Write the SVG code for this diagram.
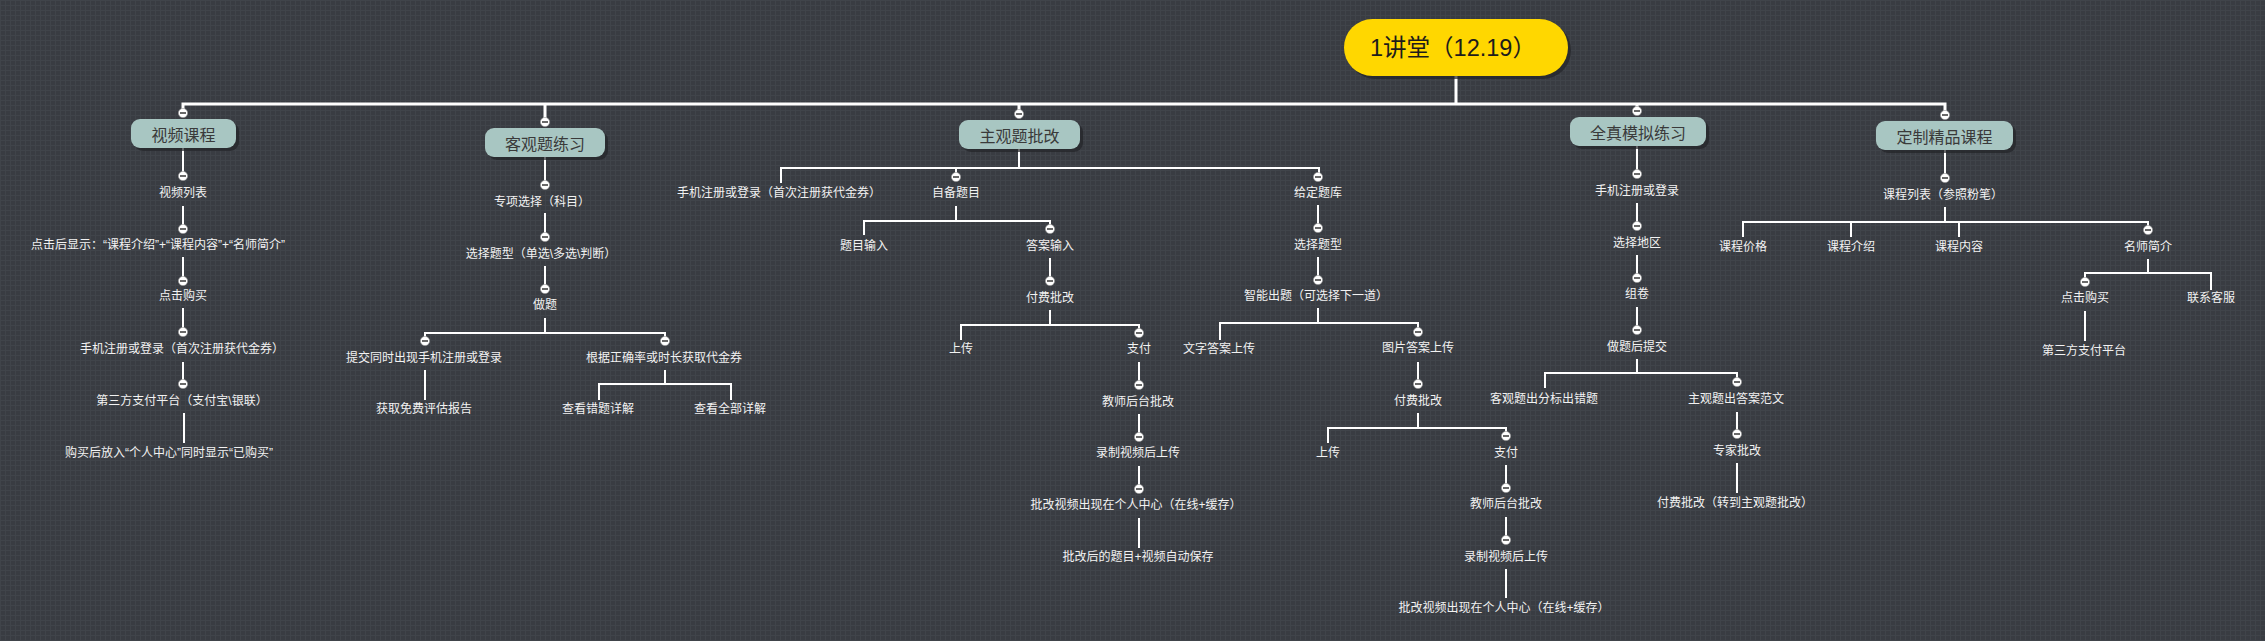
<svg xmlns="http://www.w3.org/2000/svg" xmlns:xlink="http://www.w3.org/1999/xlink" width="2265" height="641" viewBox="0 0 2265 641">
<style>
.t{font-family:"Liberation Sans","Noto Sans CJK SC",sans-serif;font-size:12px;fill:#f2f2f2;text-anchor:middle;dominant-baseline:central}
.b{font-family:"Noto Sans CJK SC","Noto Sans",sans-serif;font-size:16px;fill:#3a3a3a;text-anchor:middle;dominant-baseline:central}
.r{font-family:"Liberation Sans","Noto Sans CJK SC",sans-serif;font-size:23.5px;fill:#1c1c1c;text-anchor:middle;dominant-baseline:central}
.c{fill:none;stroke:#ffffff;stroke-width:2}
.m{fill:none;stroke:#ffffff;stroke-width:3}
.box{fill:#a8c6c2}
.sh{fill:#222428;opacity:0.7}
</style>
<defs>
<pattern id="grid" width="5" height="5" patternUnits="userSpaceOnUse">
<rect width="5" height="5" fill="#393c42"/>
<path d="M0 0.5H5M0.5 0V5" stroke="#40444a" stroke-width="1"/>
</pattern>
<g id="tog">
<circle r="4.6" fill="#ffffff" stroke="#9a9a9a" stroke-width="0.6"/>
<line x1="-3" y1="0" x2="3" y2="0" stroke="#444444" stroke-width="1.6"/>
</g>
</defs>
<rect width="2265" height="641" fill="url(#grid)"/>

<g id="connectors">
<path class="m" d="M1456 76V104M183 113V104H1945V115M545 104V122M1019 104V114M1637 104V111"/>
<path class="c" d="M183 148V176M183 206V229M183 257V281M183 308V332M183 362V384M184 413V443"/>
<path class="c" d="M545 157V185M545 213V237M545 266V289M545 318V333M425 341V333H665V341M425 370V400M665 370V384M599 400V384H731V400"/>
<path class="c" d="M1019 149V168M781 183V168H1319V177M956 168V177M956 206V221M864 235V221H1050V229M1050 258V281M1050 310V325M961 340V325H1139V333M1139 362V385M1139 414V437M1139 466V489M1139 518V548"/>
<path class="c" d="M1318 205V228M1318 257V280M1318 308V323M1220 340V323H1418V332M1418 362V384M1418 413V428M1328 443V428H1506V436M1506 465V488M1506 517V540M1506 569V598"/>
<path class="c" d="M1637 146V174M1637 203V226M1637 255V278M1637 307V330M1637 359V373M1545 388V373H1737V382M1737 412V434M1737 463V493"/>
<path class="c" d="M1945 150V178M1945 207V222M1743 237V222H2148V230M1851 222V237M1959 222V237M2148 259V273M2085 282V273H2211V290M2085 311V341"/>
</g>

<g id="root">
<rect class="sh" x="1347" y="22" width="224" height="57" rx="28.5"/>
<rect x="1344" y="19" width="224" height="57" rx="28.5" fill="#ffd700"/>
<text class="r" x="1453" y="47.5">1讲堂（12.19）</text>
</g>

<g id="b1">
<rect class="sh" x="134" y="122" width="105" height="29" rx="9"/>
<rect class="box" x="131" y="119" width="105" height="29" rx="9"/>
<text class="b" x="183.5" y="133.5">视频课程</text>
<use xlink:href="#tog" x="183" y="113"/>
</g>
<g id="b1n1"><use xlink:href="#tog" x="183" y="176"/><text class="t" x="183" y="193">视频列表</text></g>
<g id="b1n2"><use xlink:href="#tog" x="183" y="229"/><text class="t" x="158" y="245">点击后显示：“课程介绍”+“课程内容”+“名师简介”</text></g>
<g id="b1n3"><use xlink:href="#tog" x="183" y="281"/><text class="t" x="183" y="296">点击购买</text></g>
<g id="b1n4"><use xlink:href="#tog" x="183" y="332"/><text class="t" x="182" y="349">手机注册或登录（首次注册获代金券）</text></g>
<g id="b1n5"><use xlink:href="#tog" x="183" y="384"/><text class="t" x="182" y="401">第三方支付平台（支付宝\银联）</text></g>
<g id="b1n6"><text class="t" x="169" y="453">购买后放入“个人中心”同时显示“已购买”</text></g>

<g id="b2">
<rect class="sh" x="488" y="131" width="120" height="29" rx="9"/>
<rect class="box" x="485" y="128" width="120" height="29" rx="9"/>
<text class="b" x="545" y="142.5">客观题练习</text>
<use xlink:href="#tog" x="545" y="122"/>
</g>
<g id="b2n1"><use xlink:href="#tog" x="545" y="185"/><text class="t" x="542" y="202">专项选择（科目）</text></g>
<g id="b2n2"><use xlink:href="#tog" x="545" y="237"/><text class="t" x="541" y="254">选择题型（单选\多选\判断）</text></g>
<g id="b2n3"><use xlink:href="#tog" x="545" y="289"/><text class="t" x="545" y="305">做题</text></g>
<g id="b2n4"><use xlink:href="#tog" x="425" y="341"/><text class="t" x="424" y="358">提交同时出现手机注册或登录</text></g>
<g id="b2n5"><use xlink:href="#tog" x="665" y="341"/><text class="t" x="664" y="358">根据正确率或时长获取代金券</text></g>
<g id="b2n6"><text class="t" x="424" y="409">获取免费评估报告</text></g>
<g id="b2n7"><text class="t" x="598" y="409">查看错题详解</text></g>
<g id="b2n8"><text class="t" x="730" y="409">查看全部详解</text></g>

<g id="b3">
<rect class="sh" x="962" y="123" width="121" height="29" rx="9"/>
<rect class="box" x="959" y="120" width="121" height="29" rx="9"/>
<text class="b" x="1019.5" y="134.5">主观题批改</text>
<use xlink:href="#tog" x="1019" y="114"/>
</g>
<g id="b3n1"><text class="t" x="779" y="193">手机注册或登录（首次注册获代金券）</text></g>
<g id="b3n2"><use xlink:href="#tog" x="956" y="177"/><text class="t" x="956" y="193">自备题目</text></g>
<g id="b3n3"><use xlink:href="#tog" x="1318" y="177"/><text class="t" x="1318" y="193">给定题库</text></g>
<g id="b3n4"><text class="t" x="864" y="246">题目输入</text></g>
<g id="b3n5"><use xlink:href="#tog" x="1050" y="229"/><text class="t" x="1050" y="246">答案输入</text></g>
<g id="b3n6"><use xlink:href="#tog" x="1050" y="281"/><text class="t" x="1050" y="298">付费批改</text></g>
<g id="b3n7"><text class="t" x="961" y="349">上传</text></g>
<g id="b3n8"><use xlink:href="#tog" x="1139" y="333"/><text class="t" x="1139" y="349">支付</text></g>
<g id="b3n9"><use xlink:href="#tog" x="1139" y="385"/><text class="t" x="1138" y="402">教师后台批改</text></g>
<g id="b3n10"><use xlink:href="#tog" x="1139" y="437"/><text class="t" x="1138" y="453">录制视频后上传</text></g>
<g id="b3n11"><use xlink:href="#tog" x="1139" y="489"/><text class="t" x="1136" y="505">批改视频出现在个人中心（在线+缓存）</text></g>
<g id="b3n12"><text class="t" x="1138" y="557">批改后的题目+视频自动保存</text></g>
<g id="b3n13"><use xlink:href="#tog" x="1318" y="228"/><text class="t" x="1318" y="245">选择题型</text></g>
<g id="b3n14"><use xlink:href="#tog" x="1318" y="280"/><text class="t" x="1316" y="296">智能出题（可选择下一道）</text></g>
<g id="b3n15"><text class="t" x="1219" y="349">文字答案上传</text></g>
<g id="b3n16"><use xlink:href="#tog" x="1418" y="332"/><text class="t" x="1418" y="348">图片答案上传</text></g>
<g id="b3n17"><use xlink:href="#tog" x="1418" y="384"/><text class="t" x="1418" y="401">付费批改</text></g>
<g id="b3n18"><text class="t" x="1328" y="453">上传</text></g>
<g id="b3n19"><use xlink:href="#tog" x="1506" y="436"/><text class="t" x="1506" y="453">支付</text></g>
<g id="b3n20"><use xlink:href="#tog" x="1506" y="488"/><text class="t" x="1506" y="504">教师后台批改</text></g>
<g id="b3n21"><use xlink:href="#tog" x="1506" y="540"/><text class="t" x="1506" y="557">录制视频后上传</text></g>
<g id="b3n22"><text class="t" x="1504" y="608">批改视频出现在个人中心（在线+缓存）</text></g>

<g id="b4">
<rect class="sh" x="1573" y="120" width="136" height="29" rx="9"/>
<rect class="box" x="1570" y="117" width="136" height="29" rx="9"/>
<text class="b" x="1638" y="131.5">全真模拟练习</text>
<use xlink:href="#tog" x="1637" y="111"/>
</g>
<g id="b4n1"><use xlink:href="#tog" x="1637" y="174"/><text class="t" x="1637" y="191">手机注册或登录</text></g>
<g id="b4n2"><use xlink:href="#tog" x="1637" y="226"/><text class="t" x="1637" y="243">选择地区</text></g>
<g id="b4n3"><use xlink:href="#tog" x="1637" y="278"/><text class="t" x="1637" y="294">组卷</text></g>
<g id="b4n4"><use xlink:href="#tog" x="1637" y="330"/><text class="t" x="1637" y="347">做题后提交</text></g>
<g id="b4n5"><text class="t" x="1544" y="399">客观题出分标出错题</text></g>
<g id="b4n6"><use xlink:href="#tog" x="1737" y="382"/><text class="t" x="1736" y="399">主观题出答案范文</text></g>
<g id="b4n7"><use xlink:href="#tog" x="1737" y="434"/><text class="t" x="1737" y="451">专家批改</text></g>
<g id="b4n8"><text class="t" x="1735" y="503">付费批改（转到主观题批改）</text></g>

<g id="b5">
<rect class="sh" x="1879" y="124" width="137" height="29" rx="9"/>
<rect class="box" x="1876" y="121" width="137" height="29" rx="9"/>
<text class="b" x="1944.5" y="135.5">定制精品课程</text>
<use xlink:href="#tog" x="1945" y="115"/>
</g>
<g id="b5n1"><use xlink:href="#tog" x="1945" y="178"/><text class="t" x="1943" y="195">课程列表（参照粉笔）</text></g>
<g id="b5n2"><text class="t" x="1743" y="247">课程价格</text></g>
<g id="b5n3"><text class="t" x="1851" y="247">课程介绍</text></g>
<g id="b5n4"><text class="t" x="1959" y="247">课程内容</text></g>
<g id="b5n5"><use xlink:href="#tog" x="2148" y="230"/><text class="t" x="2148" y="247">名师简介</text></g>
<g id="b5n6"><use xlink:href="#tog" x="2085" y="282"/><text class="t" x="2085" y="298">点击购买</text></g>
<g id="b5n7"><text class="t" x="2211" y="298">联系客服</text></g>
<g id="b5n8"><text class="t" x="2084" y="351">第三方支付平台</text></g>
</svg>
